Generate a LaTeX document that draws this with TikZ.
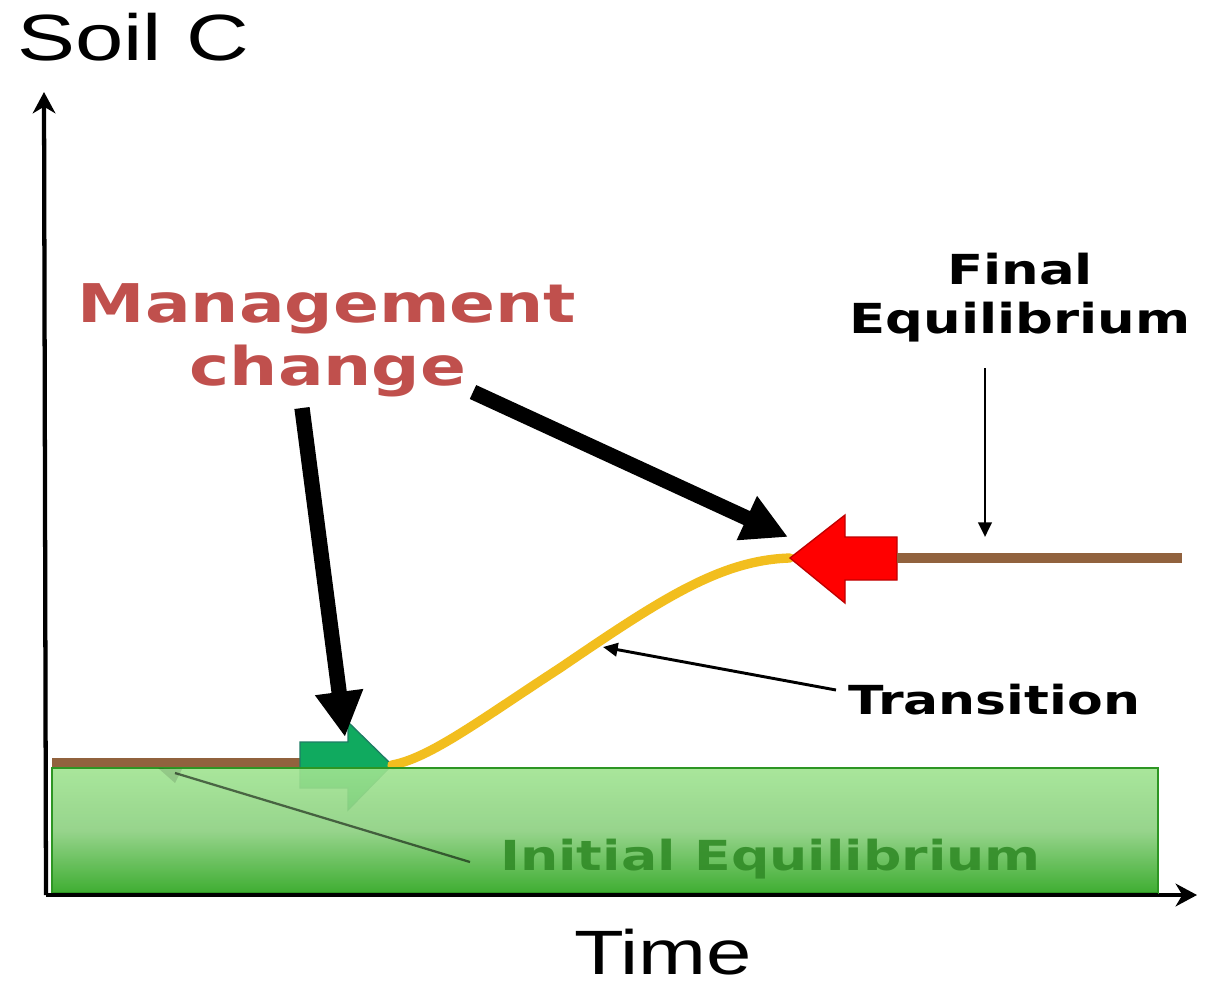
\documentclass[tikz,border=0pt]{standalone}
\usepackage{fontspec}
\usepackage{graphicx}
\setmainfont{DejaVu Sans}
\newfontfamily\arialf{Liberation Sans}
\usetikzlibrary{arrows.meta}
\definecolor{soilbrown}{RGB}{145,98,62}
\definecolor{transyellow}{RGB}{242,190,30}
\definecolor{mgmtred}{RGB}{192,80,77}
\definecolor{initgreen}{RGB}{50,140,40}
\definecolor{arrowgreen}{RGB}{16,170,95}
\definecolor{arrowgreenedge}{RGB}{30,125,100}
\definecolor{boxtop}{RGB}{160,228,145}
\definecolor{boxmid}{RGB}{140,208,128}
\definecolor{boxbot}{RGB}{42,165,28}
\definecolor{boxedge}{RGB}{45,150,35}
\tikzset{
  axis/.style={line width=3.2pt, -{Stealth[length=16pt,width=17pt,inset=5pt]}},
  bigarrow/.style={line width=11.5pt, -{Triangle[length=34pt,width=34pt]}},
  thinarrow/.style={line width=2.2pt, -{Triangle[length=11pt,width=10pt]}},
  eqline/.style={line width=7pt, soilbrown},
  label/.style={inner sep=0pt, anchor=base},
}
\begin{document}
\begin{tikzpicture}[x=0.75pt,y=-0.75pt]
\useasboundingbox (0,0) rectangle (1217,990);
\fill[white] (0,0) rectangle (1217,990);

% axes
\coordinate (origin) at (46,895);
\coordinate (ytop) at (44,92);
\coordinate (xend) at (1197,895);
\draw[axis] (origin) -- (ytop);
\draw[axis] (origin) -- (xend);

% axis labels
\node[label, anchor=base west] (soil) at (17,60) {\arialf\fontsize{49}{55}\selectfont\scalebox{1.33}[1]{Soil C}};
\node[label] (time) at (663,974) {\arialf\fontsize{47}{52}\selectfont\scalebox{1.3}[1]{Time}};

% initial equilibrium line
\coordinate (init0) at (52,763);
\coordinate (init1) at (304,763);
\draw[eqline] (init0) -- (init1);

% green block arrow
\draw[fill=arrowgreen, draw=arrowgreenedge, line width=1pt]
  (300,742) -- (348,742) -- (348,722) -- (392,765) -- (348,810) -- (348,788) -- (300,788) -- cycle;
\coordinate (gtip) at (392,765);

% transition curve
\coordinate (redtip) at (790,558);
\draw[transyellow, line width=7pt, line cap=round]
  (gtip) .. controls (430,758) and (480,720) .. (560,668)
  .. controls (660,600) and (720,560) .. (redtip);

% red block arrow
\draw[fill=red, draw=red!75!black, line width=1pt]
  (redtip) -- (845,515) -- (845,537) -- (897,537) -- (897,580) -- (845,580) -- (845,603) -- cycle;

% final equilibrium line
\coordinate (fin0) at (897,558);
\coordinate (fin1) at (1182,558);
\draw[eqline] (fin0) -- (fin1);

% green box (semi-transparent)
\shade[top color=boxtop, bottom color=boxbot, middle color=boxmid, fill opacity=0.9]
  (52,768) rectangle (1158,893);
\draw[boxedge, line width=1.2pt] (52,768) rectangle (1158,893);
\draw[line width=3.2pt] (origin) -- (1158,895);

% pointer line for initial equilibrium (seen through the box)
\coordinate (initlab) at (470,862);
\coordinate (initpt) at (158,768);
\draw[line width=1.7pt, black, opacity=0.55] (initlab) -- (175,773);
\fill[black, opacity=0.12] (initpt) -- (182,769) -- (175,783) -- cycle;

% Initial Equilibrium label
\node[label, anchor=base west, text=initgreen, opacity=0.9] (initial) at (500,870)
  {\bfseries\fontsize{31}{36}\selectfont\scalebox{1.3}[1]{Initial Equilibrium}};

% Management change label
\node[label, text=mgmtred] (mgmt1) at (327,322) {\bfseries\fontsize{40}{46}\selectfont\scalebox{1.27}[1]{Management}};
\node[label, text=mgmtred] (mgmt2) at (328,385) {\bfseries\fontsize{40}{46}\selectfont\scalebox{1.27}[1]{change}};

% black arrows
\coordinate (a1s) at (302,408);
\coordinate (a1e) at (345,737);
\coordinate (a2s) at (473,392);
\coordinate (a2e) at (788,537);
\draw[bigarrow] (a1s) -- (a1e);
\draw[bigarrow] (a2s) -- (a2e);

% Final Equilibrium label
\node[label] (final1) at (1020,284) {\bfseries\fontsize{31}{36}\selectfont\scalebox{1.28}[1]{Final}};
\node[label] (final2) at (1020,333) {\bfseries\fontsize{31}{36}\selectfont\scalebox{1.28}[1]{Equilibrium}};
\coordinate (finpt) at (985,537);
\draw[thinarrow] (985,368) -- (finpt);

% Transition label
\node[label, anchor=base west] (trans) at (848,714) {\bfseries\fontsize{30}{36}\selectfont\scalebox{1.3}[1]{Transition}};
\coordinate (transpt) at (603,647);
\draw[thinarrow] (836,690) -- (transpt);
\end{tikzpicture}
\end{document}
